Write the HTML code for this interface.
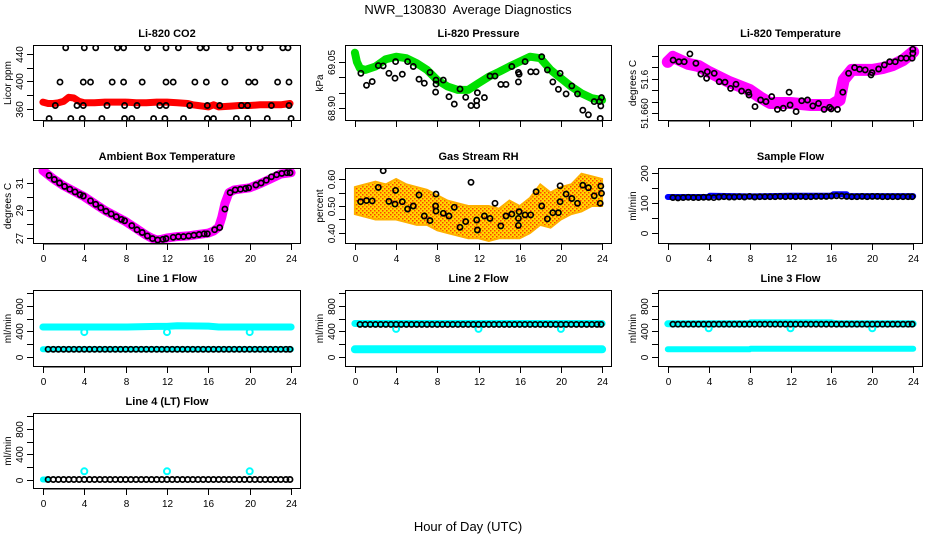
<!DOCTYPE html>
<html><head><meta charset="utf-8"><title>NWR_130830 Average Diagnostics</title>
<style>
html,body{margin:0;padding:0;background:#fff;}
svg{display:block;font-family:"Liberation Sans",sans-serif;}
</style></head>
<body>
<svg id="chart" width="936" height="540" viewBox="0 0 936 540" xmlns="http://www.w3.org/2000/svg">
<defs>
<pattern id="rhpat" width="4" height="4" patternUnits="userSpaceOnUse">
<rect width="4" height="4" fill="#ffd800"/>
<rect width="1.5" height="1.5" fill="#ff4000"/>
<rect x="2" y="2" width="1.5" height="1.5" fill="#ff4000"/>
</pattern>
</defs>
<text x="468" y="14" text-anchor="middle" font-size="13" xml:space="preserve">NWR_130830&#160; Average Diagnostics</text>
<text x="468" y="531" text-anchor="middle" font-size="13">Hour of Day (UTC)</text>
</svg>
<script>
// ---- data ----
const xTicks = [0,4,8,12,16,20,24];
const flowHours = [0.5,1,1.5,2,2.5,3,3.5,4,4.5,5,5.5,6,6.5,7,7.5,8,8.5,9,9.5,10,10.5,11,11.5,12,12.5,13,13.5,14,14.5,15,15.5,16,16.5,17,17.5,18,18.5,19,19.5,20,20.5,21,21.5,22,22.5,23,23.5,23.9];

// CO2
const co2BandHours = [0,0.5,1,1.5,2,2.5,3,3.5,4,5,6,7,8,9,10,11,12,13,14,14.5,15,15.5,16,16.5,17,18,19,20,21,22,23,23.9];
const co2BandValues = [370,368,368,369,371,377,376,371,369,369,370,370,370,369,369,370,370,369,368,366,365,364,363,366,363,364,365,365,366,366,366,368];
const co2PointHours = [2.2,4.0,5.1,7.2,7.8,10.1,11.9,13.1,15.2,15.8,18.1,19.9,21.0,23.2,23.7, 1.65,3.9,4.6,6.7,7.8,9.6,11.9,12.6,14.7,15.8,17.6,19.9,20.5,22.7,23.8, 1.2,3.3,3.9,6.2,7.9,9.1,11.3,11.9,14.2,15.9,17.1,19.2,19.8,22.1,23.8, 0.6,2.7,3.8,5.7,7.9,8.6,10.7,11.8,13.6,15.9,16.5,18.7,19.8,21.7,24.0];
const co2PointValues = [449,449,449,449,449,449,449,449,449,449,449,449,449,449,449, 399,399,399,399,399,399,399,399,399,399,399,399,399,399,399, 365,365,365,365,365,365,365,365,365,365,365,365,365,365,365, 346,346,346,346,346,346,346,346,346,346,346,346,346,346,346];

// Pressure
const presBandHours = [0,0.2,0.5,1,2,3,4,5,6,7,8,9,10,11,12,13,14,15,16,17,18,19,20,21,22,23,24];
const presBandValues = [69.08,69.05,69.029,69.024,69.035,69.059,69.067,69.062,69.046,69.024,68.991,68.970,68.959,68.959,68.981,69.002,69.018,69.035,69.051,69.067,69.062,69.024,68.997,68.970,68.948,68.932,68.926];
const presPointHours = [0.58,1.13,1.68,2.27,2.75,3.30,3.89,3.95,4.6,5.12,5.67,6.22,6.74,7.29,7.84,7.87,7.87,8.58,9.14,9.65,10.2,10.76,11.27,11.83,11.83,11.89,12.57,13.12,13.6,14.16,14.67,15.23,15.87,15.87,15.94,16.52,17.07,17.59,18.14,18.69,19.21,19.76,19.92,20.5,21.06,21.61,22.13,22.67,23.23,23.81,23.87,23.94,23.75];
const presPointValues = [69.013,68.974,68.986,69.038,69.037,69.013,68.997,69.051,69.010,69.051,69.035,68.994,68.981,69.016,68.952,68.991,68.978,68.991,68.937,68.913,68.962,68.935,68.908,68.924,68.908,68.950,68.934,69.004,69.004,68.977,68.977,69.035,69.016,68.985,69.010,69.051,69.018,69.018,69.067,69.024,68.985,68.961,69.013,68.946,68.972,68.946,68.893,68.878,68.921,68.866,68.907,68.934,68.921];

// Li-820 temperature
const tempBandHours = [0,0.5,2,3,4,6,8,9,10,12,14,16,16.8,17.2,18,20,21,22,23,24];
const tempBandValues = [51.6824,51.6846,51.6815,51.6806,51.678,51.6736,51.6701,51.667,51.6644,51.6644,51.6635,51.6635,51.6657,51.6745,51.6789,51.6789,51.6797,51.681,51.6832,51.6868];
const tempPointHours = [0.52,1.08,1.6,2.16,2.75,3.24,3.86,3.79,4.54,5.03,5.59,6.14,6.67,7.22,7.88,7.94,8.53,9.08,9.6,10.16,10.72,11.3,11.86,11.96,12.55,13.1,13.66,14.18,14.74,15.29,15.82,15.98,16.6,17.12,17.68,18.27,18.76,19.31,19.87,19.97,20.62,21.18,21.7,22.25,22.81,23.33,23.89,23.96,23.96];
const tempPointValues = [51.6832,51.6825,51.6825,51.6859,51.6818,51.6771,51.6781,51.6752,51.6774,51.6737,51.6735,51.6708,51.6726,51.6696,51.6691,51.6679,51.6628,51.6657,51.665,51.6672,51.6616,51.6621,51.6691,51.6635,51.6606,51.6654,51.6657,51.6631,51.6642,51.6616,51.6625,51.6618,51.6616,51.6691,51.6774,51.6799,51.6792,51.6789,51.6767,51.6777,51.6793,51.6811,51.6825,51.6825,51.684,51.684,51.684,51.6879,51.6862];

// Ambient box temperature
const ambBandHours = [0,1,2,3,4,5,6,7,8,9,10,10.5,11,11.5,12,13,14,15,16,16.5,17,17.3,17.6,18,18.5,19,20,21,22,23,24];
const ambBandValues = [31.9,31.3,30.8,30.4,30.0,29.5,29.0,28.6,28.2,27.7,27.2,27.0,26.85,26.9,27.0,27.1,27.15,27.25,27.35,27.5,27.8,28.5,29.5,30.3,30.5,30.55,30.65,30.95,31.3,31.65,31.75];
const ambPointHours = [0.6,1.1,1.6,2.1,2.6,3.1,3.6,3.9,4.6,5.1,5.6,6.1,6.6,7.1,7.6,7.9,8.6,9.1,9.6,10.1,10.6,11.1,11.6,11.9,12.6,13.1,13.6,14.1,14.6,15.1,15.6,15.9,16.6,17.1,17.6,18.1,18.6,19.1,19.6,19.9,20.6,21.1,21.6,22.1,22.6,23.1,23.6,23.9];
const ambPointValues = [31.55,31.25,31.0,30.75,30.55,30.35,30.15,30.05,29.7,29.45,29.2,28.95,28.75,28.55,28.35,28.25,27.9,27.6,27.4,27.15,26.95,26.85,26.9,26.95,27.05,27.1,27.1,27.15,27.2,27.25,27.3,27.3,27.6,27.75,29.1,30.3,30.5,30.55,30.6,30.65,30.85,31.0,31.2,31.45,31.6,31.7,31.75,31.75];

// Gas stream RH
const rhBandHours = [0,1,2,3,4,5,6,7,8,9,10,11,12,13,14,15,16,17,18,19,20,21,22,23,24];
const rhBandUpper = [0.57,0.58,0.59,0.58,0.60,0.58,0.57,0.56,0.54,0.52,0.51,0.50,0.50,0.50,0.49,0.52,0.50,0.53,0.58,0.55,0.57,0.58,0.62,0.61,0.60];
const rhBandLower = [0.47,0.46,0.45,0.45,0.45,0.44,0.43,0.43,0.41,0.40,0.39,0.38,0.38,0.37,0.38,0.38,0.38,0.40,0.43,0.42,0.45,0.47,0.48,0.50,0.50];
const rhPointHours = [0.55,1.13,1.68,2.27,2.75,3.30,3.89,3.95,4.6,5.12,5.67,6.22,6.74,7.29,7.84,7.87,7.87,8.58,9.14,9.65,10.2,10.76,11.27,11.83,11.89,12.57,13.12,13.6,14.16,14.67,15.23,15.87,15.87,15.94,16.52,17.07,17.59,18.14,18.69,19.21,19.76,19.92,19.92,20.5,21.06,21.61,22.13,22.67,23.23,23.81,23.87,23.94];
const rhPointValues = [0.516,0.520,0.519,0.569,0.631,0.517,0.507,0.558,0.516,0.489,0.500,0.541,0.463,0.446,0.500,0.544,0.481,0.473,0.463,0.495,0.421,0.442,0.588,0.448,0.411,0.463,0.454,0.510,0.426,0.463,0.470,0.454,0.428,0.479,0.467,0.467,0.553,0.500,0.452,0.475,0.475,0.575,0.516,0.544,0.528,0.510,0.577,0.568,0.538,0.510,0.574,0.547];

// Sample flow
const sampBandHours = [0,4,4.1,8,12,16,16.2,17.5,17.6,24];
const sampBandValues = [120,120,124,122,124,124,129,129,123,123];
const sampPointValues = [118,117,118,119,118,118,119,119,118,120,121,120,120,121,120,122,120,121,121,121,121,122,121,122,121,122,121,121,122,122,122,123,124,123,122,121,121,122,121,122,122,121,121,121,121,121,121,121];

// Line flows
const l1UpperHours = [0,4,8,11,12,13,16,17,20,24];
const l1UpperValues = [470,470,470,480,480,490,485,470,470,470];
const l1LowerHours = [0,24];
const l1LowerValues = [120,120];
const l1DipHours = [4,12,20];
const l1DipValues = [390,390,390];
const l1PointValues = [120,120,120,120,120,120,120,120,120,120,120,120,120,120,120,120,120,120,120,120,120,120,120,120,120,120,120,120,120,120,120,120,120,120,120,120,120,120,120,120,120,120,120,120,120,120,120,120];

const l2UpperHours = [0,24];
const l2UpperValues = [525,525];
const l2LowerHours = [0,24];
const l2LowerValues = [120,120];
const l2DipHours = [4,12,20];
const l2DipValues = [440,440,440];
const l2PointValues = [512,512,512,512,512,512,512,512,512,512,512,512,512,512,512,512,512,512,512,512,512,512,512,512,512,512,512,512,512,512,512,512,512,512,512,512,512,512,512,512,512,512,512,512,512,512,512,512];

const l3UpperHours = [0,8,8.1,16,16.5,24];
const l3UpperValues = [520,520,535,535,520,520];
const l3LowerHours = [0,8,8.1,24];
const l3LowerValues = [120,120,130,130];
const l3DipHours = [4,12,20];
const l3DipValues = [450,450,450];
const l3PointValues = [515,515,515,515,515,515,515,515,515,515,515,515,515,515,515,515,515,515,515,515,515,515,515,515,515,515,515,515,515,515,515,515,515,515,515,515,515,515,515,515,515,515,515,515,515,515,515,515];

const l4BandHours = [0,0.4];
const l4BandValues = [0,0];
const l4DipHours = [4,12,20];
const l4DipValues = [130,130,130];
const l4PointValues = [0,0,0,0,0,0,0,0,0,0,0,0,0,0,0,0,0,0,0,0,0,0,0,0,0,0,0,0,0,0,0,0,0,0,0,0,0,0,0,0,0,0,0,0,0,0,0,0];

// ---- drawing ----
const NS = "http://www.w3.org/2000/svg";
const svg = document.getElementById('chart');
const colL = [33,345,658], colR = [301,612,923];
const rowT = [45,168,290,413], rowB = [121,244,367,489];

function el(tag, parent){ const e=document.createElementNS(NS,tag); parent.appendChild(e); return e; }

function makePanel(o){
  const L=colL[o.col], R=colR[o.col], T=rowT[o.row], B=rowB[o.row];
  const g = el('g', svg);
  
  
  const xs = h => L + (h + 0.96) / 25.92 * (R - L);
  const ys = v => B - (v - o.ymin) / (o.ymax - o.ymin) * (B - T);
  const clipId = 'clip-' + o.name;
  const cp = el('clipPath', g); cp.setAttribute('id', clipId);
  const cr = el('rect', cp); cr.setAttribute('x', L); cr.setAttribute('y', T); cr.setAttribute('width', R-L); cr.setAttribute('height', B-T);
  const plot = el('g', g); plot.setAttribute('clip-path', 'url(#'+clipId+')');
  
  
  const t = el('text', g);
  
  
  t.setAttribute('x', (L+R)/2); t.setAttribute('y', T-8); t.setAttribute('text-anchor','middle');
  t.setAttribute('font-size','11'); t.setAttribute('font-weight','bold'); t.textContent = o.title;
  const box = el('rect', g);
  
  
  box.setAttribute('x', L+0.5); box.setAttribute('y', T+0.5); box.setAttribute('width', R-L-1); box.setAttribute('height', B-T-1);
  box.setAttribute('fill','none'); box.setAttribute('stroke','#000'); box.setAttribute('stroke-width','1');
  xTicks.forEach(h => {
    const ln = el('line', g);
    
    
    const x = Math.round(xs(h))+0.5;
    ln.setAttribute('x1',x); ln.setAttribute('x2',x); ln.setAttribute('y1',B); ln.setAttribute('y2',B+6); ln.setAttribute('stroke','#000');
    if (o.xlabels) {
      const tx = el('text', g);
      
      
      tx.setAttribute('x', x); tx.setAttribute('y', B+18); tx.setAttribute('text-anchor','middle'); tx.setAttribute('font-size','10');
      tx.textContent = String(h);
    }
  });
  const xl = el('line', g);
  
  
  xl.setAttribute('x1', Math.round(xs(0))+0.5); xl.setAttribute('x2', Math.round(xs(24))+0.5); xl.setAttribute('y1', B); xl.setAttribute('y2', B); xl.setAttribute('stroke','#000');
  o.yticks.forEach((v,i) => {
    const y = Math.round(ys(v))+0.5;
    const ln = el('line', g);
    
    
    ln.setAttribute('x1',L-6); ln.setAttribute('x2',L); ln.setAttribute('y1',y); ln.setAttribute('y2',y); ln.setAttribute('stroke','#000');
    const lab = o.ylabels[i];
    if (lab) {
      const tx = el('text', g);
      
      
      tx.setAttribute('transform', 'translate('+(L-10)+','+y+') rotate(-90)');
      tx.setAttribute('text-anchor','middle'); tx.setAttribute('font-size','10');
      tx.textContent = lab;
    }
  });
  const ylt = el('text', g);
  
  
  ylt.setAttribute('transform', 'translate('+(L-22)+','+((T+B)/2)+') rotate(-90)');
  ylt.setAttribute('text-anchor','middle'); ylt.setAttribute('font-size','10');
  ylt.textContent = o.ylab;
  return {plot, xs, ys};
}

function band(p, hours, vals, color, width, name){
  const pl = el('polyline', p.plot);
  
  
  pl.setAttribute('points', hours.map((h,i)=>p.xs(h).toFixed(1)+','+p.ys(vals[i]).toFixed(1)).join(' '));
  pl.setAttribute('fill','none'); pl.setAttribute('stroke',color); pl.setAttribute('stroke-width',width);
  pl.setAttribute('stroke-linejoin','round'); pl.setAttribute('stroke-linecap','round');
}
function circles(p, hours, vals, color, name, r, sw){
  hours.forEach((h,i) => {
    const c = el('circle', p.plot);
    
    
    c.setAttribute('cx', p.xs(h).toFixed(1)); c.setAttribute('cy', p.ys(vals[i]).toFixed(1));
    c.setAttribute('r', r || 2.6); c.setAttribute('fill','none'); c.setAttribute('stroke', color); c.setAttribute('stroke-width', sw || 1.7);
  });
}

let p = makePanel({name:'co2-panel',col:0,row:0,title:'Li-820 CO2',ylab:'Licor ppm',ymin:342.5,ymax:453,yticks:[360,380,400,420,440],ylabels:['360','','400','','440'],xlabels:false});
band(p, co2BandHours, co2BandValues, '#ff0000', 7, 'co2-band');
circles(p, co2PointHours, co2PointValues, '#000', 'co2-point');

p = makePanel({name:'pressure-panel',col:1,row:0,title:'Li-820 Pressure',ylab:'kPa',ymin:68.858,ymax:69.105,yticks:[68.90,68.95,69.00,69.05],ylabels:['68.90','','','69.05'],xlabels:false});
band(p, presBandHours, presBandValues, '#00e000', 8, 'pressure-band');
circles(p, presPointHours, presPointValues, '#000', 'pressure-point');

p = makePanel({name:'li820-temp-panel',col:2,row:0,title:'Li-820 Temperature',ylab:'degrees C',ymin:51.6565,ymax:51.6898,yticks:[51.660,51.665,51.670,51.675,51.680,51.685],ylabels:['51.660','','','51.6','',''],xlabels:false});
band(p, tempBandHours, tempBandValues, '#ff00ff', 12, 'li820-temp-band');
circles(p, tempPointHours, tempPointValues, '#000', 'li820-temp-point');

p = makePanel({name:'ambient-temp-panel',col:0,row:1,title:'Ambient Box Temperature',ylab:'degrees C',ymin:26.56,ymax:32.09,yticks:[27,28,29,30,31],ylabels:['27','','29','','31'],xlabels:true});
band(p, ambBandHours, ambBandValues, '#ff00ff', 9, 'ambient-temp-band');
circles(p, ambPointHours, ambPointValues, '#000', 'ambient-temp-point');

p = makePanel({name:'rh-panel',col:1,row:1,title:'Gas Stream RH',ylab:'percent',ymin:0.359,ymax:0.641,yticks:[0.40,0.45,0.50,0.55,0.60],ylabels:['0.40','','0.50','','0.60'],xlabels:true});
{
  const pts = rhBandHours.map((h,i)=>p.xs(h).toFixed(1)+','+p.ys(rhBandUpper[i]).toFixed(1))
    .concat(rhBandHours.slice().reverse().map((h,j)=>{const i=rhBandHours.length-1-j; return p.xs(h).toFixed(1)+','+p.ys(rhBandLower[i]).toFixed(1);}));
  const pg = el('polygon', p.plot);
  
  
  pg.setAttribute('points', pts.join(' ')); pg.setAttribute('fill','url(#rhpat)'); pg.setAttribute('stroke','#ffb000'); pg.setAttribute('stroke-width','2');
}
circles(p, rhPointHours, rhPointValues, '#000', 'rh-point');

p = makePanel({name:'sample-flow-panel',col:2,row:1,title:'Sample Flow',ylab:'ml/min',ymin:-36.7,ymax:216.7,yticks:[0,50,100,150,200],ylabels:['0','','100','','200'],xlabels:true});
band(p, sampBandHours, sampBandValues, '#0000ff', 6, 'sample-flow-band');
circles(p, flowHours, sampPointValues, '#000', 'sample-flow-point');

const flowTicks = [0,200,400,600,800,1000];
const flowLabels = ['0','','400','','800',''];

p = makePanel({name:'line1-flow-panel',col:0,row:2,title:'Line 1 Flow',ylab:'ml/min',ymin:-157,ymax:1051,yticks:flowTicks,ylabels:flowLabels,xlabels:true});
band(p, l1UpperHours, l1UpperValues, '#00ffff', 7, 'line1-upper-band');
band(p, l1LowerHours, l1LowerValues, '#00ffff', 6, 'line1-lower-band');
circles(p, l1DipHours, l1DipValues, '#00ffff', 'line1-dip-point', 3, 2);
circles(p, flowHours, l1PointValues, '#000', 'line1-point');

p = makePanel({name:'line2-flow-panel',col:1,row:2,title:'Line 2 Flow',ylab:'ml/min',ymin:-157,ymax:1051,yticks:flowTicks,ylabels:flowLabels,xlabels:true});
band(p, l2UpperHours, l2UpperValues, '#00ffff', 7, 'line2-upper-band');
band(p, l2LowerHours, l2LowerValues, '#00ffff', 8, 'line2-lower-band');
circles(p, l2DipHours, l2DipValues, '#00ffff', 'line2-dip-point', 3, 2);
circles(p, flowHours, l2PointValues, '#000', 'line2-point');

p = makePanel({name:'line3-flow-panel',col:2,row:2,title:'Line 3 Flow',ylab:'ml/min',ymin:-157,ymax:1051,yticks:flowTicks,ylabels:flowLabels,xlabels:true});
band(p, l3UpperHours, l3UpperValues, '#00ffff', 7, 'line3-upper-band');
band(p, l3LowerHours, l3LowerValues, '#00ffff', 6, 'line3-lower-band');
circles(p, l3DipHours, l3DipValues, '#00ffff', 'line3-dip-point', 3, 2);
circles(p, flowHours, l3PointValues, '#000', 'line3-point');

p = makePanel({name:'line4-flow-panel',col:0,row:3,title:'Line 4 (LT) Flow',ylab:'ml/min',ymin:-150,ymax:1051,yticks:flowTicks,ylabels:flowLabels,xlabels:true});
band(p, l4BandHours, l4BandValues, '#00ffff', 6, 'line4-band');
circles(p, l4DipHours, l4DipValues, '#00ffff', 'line4-dip-point', 3, 2);
circles(p, flowHours, l4PointValues, '#000', 'line4-point');
</script>
</body></html>
